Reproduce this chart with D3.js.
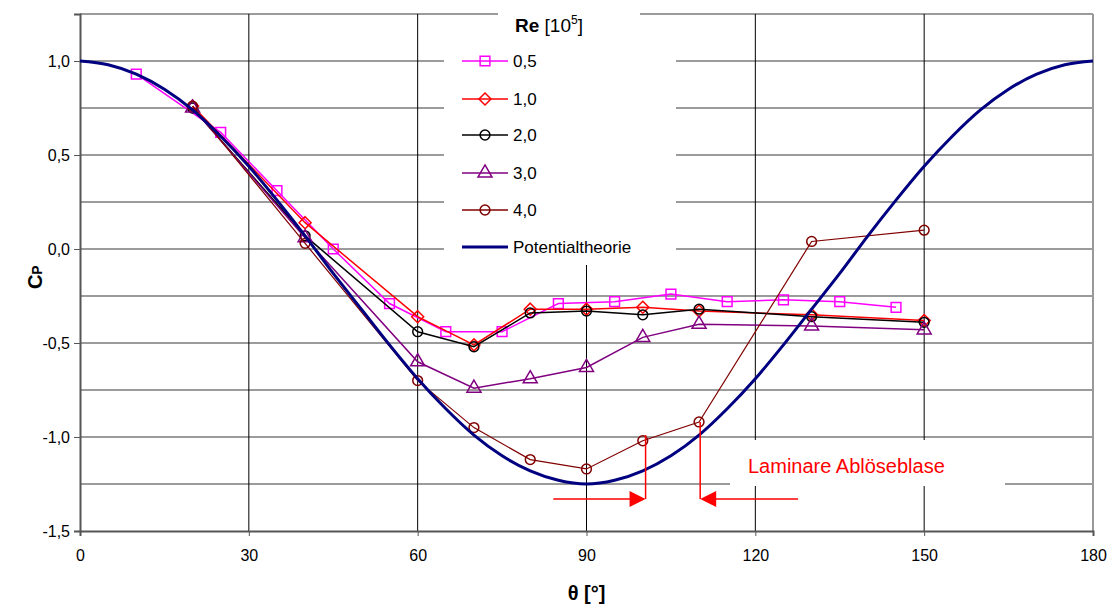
<!DOCTYPE html>
<html>
<head>
<meta charset="utf-8">
<script src="https://cdn.jsdelivr.net/npm/d3@7"></script>
<style>
  body { margin: 0; background: #fff; }
  svg { font-family: "Liberation Sans", Arial, sans-serif; }
</style>
</head>
<body>
<svg id="chart" width="1112" height="607"></svg>
<script>
// measured series (theta in degrees, cp)
var theta05 = [10, 25, 35, 45, 55, 65, 75, 85, 95, 105, 115, 125, 135, 145];
var cp05    = [0.93, 0.62, 0.31, 0.0, -0.29, -0.44, -0.44, -0.29, -0.28, -0.24, -0.28, -0.27, -0.28, -0.31];

var thetaRe = [20, 40, 60, 70, 80, 90, 100, 110, 130, 150];
var cp10 = [0.76, 0.14, -0.36, -0.51, -0.32, -0.32, -0.31, -0.33, -0.35, -0.38];
var cp20 = [0.75, 0.07, -0.44, -0.52, -0.34, -0.33, -0.35, -0.32, -0.36, -0.39];
var cp30 = [0.75, 0.06, -0.60, -0.74, -0.69, -0.63, -0.47, -0.40, -0.41, -0.43];
var cp40 = [0.76, 0.03, -0.70, -0.95, -1.12, -1.17, -1.02, -0.92, 0.04, 0.10];

// potential theory curve
var thetaPot = [0, 5, 10, 15, 20, 25, 30, 35, 40, 45, 50, 55, 60, 65, 70, 75, 80, 85, 90,
                95, 100, 105, 110, 115, 120, 125, 130, 135, 140, 145, 150, 155, 160, 165, 170, 175, 180];
var cpPot = [1.0, 0.98, 0.93, 0.85, 0.74, 0.60, 0.44, 0.26, 0.07, -0.13, -0.32, -0.51, -0.69, -0.85, -0.99, -1.10, -1.18, -1.23, -1.25,
             -1.23, -1.18, -1.10, -0.99, -0.85, -0.69, -0.51, -0.32, -0.13, 0.07, 0.26, 0.44, 0.60, 0.74, 0.85, 0.93, 0.98, 1.0];

var xTicks = [0, 30, 60, 90, 120, 150, 180];
var yTicks = [-1.5, -1.0, -0.5, 0.0, 0.5, 1.0];
var yGrid = [-1.25, -1.0, -0.75, -0.5, -0.25, 0.0, 0.25, 0.5, 0.75, 1.0, 1.25];

var legendLabels = ["0,5", "1,0", "2,0", "3,0", "4,0", "Potentialtheorie"];

var svg = d3.select("svg#chart"),
    margin = {top: 14, right: 19, bottom: 76, left: 80},
    width = +svg.attr("width") - margin.left - margin.right,
    height = +svg.attr("height") - margin.top - margin.bottom;

var x = d3.scaleLinear().domain([0, 180]).range([0, width]);
var y = d3.scaleLinear().domain([-1.5, 1.25]).range([height, 0]);

// german decimal comma, plain hyphen for minus
var fmt = function(d) { return d.toFixed(1).replace(".", ","); };

var g = svg.append("g")
  .attr("transform", "translate(" + margin.left + "," + margin.top + ")");

// gridlines
g.selectAll(".hgrid")
  .data(yGrid)
  .enter().append("line")
  .attr("x1", 0).attr("x2", width)
  .attr("y1", function(d) { return y(d); })
  .attr("y2", function(d) { return y(d); })
  .attr("stroke", "#7a7a7a")
  .attr("stroke-width", 1.5);

g.selectAll(".vgrid")
  .data(xTicks.slice(1, -1))
  .enter().append("line")
  .attr("y1", 0).attr("y2", height)
  .attr("x1", function(d) { return x(d); })
  .attr("x2", function(d) { return x(d); })
  .attr("stroke", "#000")
  .attr("stroke-width", 1);

// right border
g.append("line")
  .attr("x1", width).attr("x2", width).attr("y1", 0).attr("y2", height)
  .attr("stroke", "#999").attr("stroke-width", 2);

// axes
var xAxis = d3.axisBottom(x).tickValues(xTicks).tickSize(5).tickPadding(14).tickFormat(d3.format("d"));
var yAxis = d3.axisLeft(y).tickValues(yTicks).tickSize(6).tickPadding(4).tickFormat(fmt);

var gx = g.append("g")
  .attr("transform", "translate(0," + height + ")")
  .call(xAxis);
gx.select(".domain").attr("stroke", "#555").attr("stroke-width", 2);
gx.selectAll(".tick line").attr("stroke", "#555");
gx.selectAll("text").attr("font-size", 16).attr("fill", "#000")
  .attr("font-family", "Liberation Sans, Arial, sans-serif");

var gy = g.append("g").call(yAxis);
gy.select(".domain").attr("stroke", "#555").attr("stroke-width", 2);
gy.selectAll(".tick line").attr("stroke", "#555");
gy.selectAll("text").attr("font-size", 16).attr("fill", "#000")
  .attr("font-family", "Liberation Sans, Arial, sans-serif");

// axis titles
svg.append("text")
  .attr("x", margin.left + x(90))
  .attr("y", 600)
  .attr("text-anchor", "middle")
  .attr("font-size", 20)
  .attr("font-weight", "bold")
  .text("θ [°]");

var yt = svg.append("text")
  .attr("transform", "translate(42," + (margin.top + y(-0.15)) + ") rotate(-90)")
  .attr("text-anchor", "middle")
  .attr("font-size", 20)
  .attr("font-weight", "bold");
yt.append("tspan").text("C");
yt.append("tspan").attr("font-size", 14).text("P");

// series
var series = [
  {th: theta05, cp: cp05, color: "#ff00ff", marker: "square", width: 1.5},
  {th: thetaRe, cp: cp10, color: "#ff0000", marker: "diamond", width: 1.5},
  {th: thetaRe, cp: cp20, color: "#000000", marker: "circle", width: 1.5},
  {th: thetaRe, cp: cp30, color: "#800080", marker: "triangle", width: 1.5},
  {th: thetaRe, cp: cp40, color: "#800000", marker: "circle", width: 1.2}
];

var line = d3.line()
  .x(function(d) { return x(d[0]); })
  .y(function(d) { return y(d[1]); });

var potLine = d3.line()
  .curve(d3.curveMonotoneX)
  .x(function(d) { return x(d[0]); })
  .y(function(d) { return y(d[1]); });

var symbols = {
  square: function() { return d3.symbol().type(d3.symbolSquare).size(95)(); },
  diamond: function() { return "M0,-6L6,0L0,6L-6,0Z"; },
  circle: function() { return d3.symbol().type(d3.symbolCircle).size(75)(); },
  triangle: function() { return d3.symbol().type(d3.symbolTriangle).size(85)(); }
};

function drawMarker(sel, s) {
  sel.append("path")
    .attr("d", symbols[s.marker]())
    .attr("fill", "none")
    .attr("stroke", s.color)
    .attr("stroke-width", 1.5);
}

series.forEach(function(s) {
  var pts = s.th.map(function(t, i) { return [t, s.cp[i]]; });
  g.append("path")
    .datum(pts)
    .attr("d", line)
    .attr("fill", "none")
    .attr("stroke", s.color)
    .attr("stroke-width", s.width);
  g.selectAll(null)
    .data(pts)
    .enter().append("g")
    .attr("transform", function(d) { return "translate(" + x(d[0]) + "," + y(d[1]) + ")"; })
    .each(function() { drawMarker(d3.select(this), s); });
});

var potPts = thetaPot.map(function(t, i) { return [t, cpPot[i]]; });
g.append("path")
  .datum(potPts)
  .attr("d", potLine)
  .attr("fill", "none")
  .attr("stroke", "#000080")
  .attr("stroke-width", 3);

// legend
svg.append("rect").attr("x", 444).attr("y", 38).attr("width", 232).attr("height", 227).attr("fill", "#fff");
svg.append("rect").attr("x", 498).attr("y", 4).attr("width", 142).attr("height", 40).attr("fill", "#fff");

var lt = svg.append("text").attr("x", 515).attr("y", 32).attr("font-size", 19);
lt.append("tspan").attr("font-weight", "bold").text("Re");
lt.append("tspan").text(" [10");
lt.append("tspan").attr("font-size", 12).attr("dy", -8).text("5");
lt.append("tspan").attr("dy", 8).text("]");

var legY = [61, 99, 135, 173, 210, 247];
legendLabels.forEach(function(lab, i) {
  var ly = legY[i];
  var lg = svg.append("g").attr("transform", "translate(0," + ly + ")");
  if (i < 5) {
    var s = series[i];
    lg.append("line").attr("x1", 462).attr("x2", 508).attr("y1", 0).attr("y2", 0)
      .attr("stroke", s.color).attr("stroke-width", 1.5);
    drawMarker(lg.append("g").attr("transform", "translate(485,0)"), s);
  } else {
    lg.append("line").attr("x1", 462).attr("x2", 508).attr("y1", 0).attr("y2", 0)
      .attr("stroke", "#000080").attr("stroke-width", 3);
  }
  lg.append("text").attr("x", 513).attr("y", 6).attr("font-size", 17).text(lab);
});

// annotation
svg.append("rect").attr("x", 730).attr("y", 440).attr("width", 275).attr("height", 46).attr("fill", "#fff");
svg.append("text")
  .attr("x", 748).attr("y", 473)
  .attr("font-size", 20)
  .attr("fill", "#ff0000")
  .text("Laminare Ablöseblase");

var ann = g.append("g").attr("stroke", "#ff0000").attr("stroke-width", 1.5).attr("fill", "none");
var ax1 = x(100.5), ax2 = x(110.2), ay = 499 - margin.top;
ann.append("line").attr("x1", ax1).attr("x2", ax1).attr("y1", 435 - margin.top).attr("y2", ay);
ann.append("line").attr("x1", x(84.1)).attr("x2", ax1 - 14).attr("y1", ay).attr("y2", ay);
ann.append("path").attr("d", "M" + (ax1 - 16) + "," + (ay - 8) + "L" + ax1 + "," + ay + "L" + (ax1 - 16) + "," + (ay + 8) + "Z")
  .attr("fill", "#ff0000").attr("stroke", "none");
ann.append("line").attr("x1", ax2).attr("x2", ax2).attr("y1", y(-0.92)).attr("y2", ay);
ann.append("line").attr("x1", ax2 + 14).attr("x2", x(127.6)).attr("y1", ay).attr("y2", ay);
ann.append("path").attr("d", "M" + (ax2 + 16) + "," + (ay - 8) + "L" + ax2 + "," + ay + "L" + (ax2 + 16) + "," + (ay + 8) + "Z")
  .attr("fill", "#ff0000").attr("stroke", "none");
</script>
</body>
</html>
